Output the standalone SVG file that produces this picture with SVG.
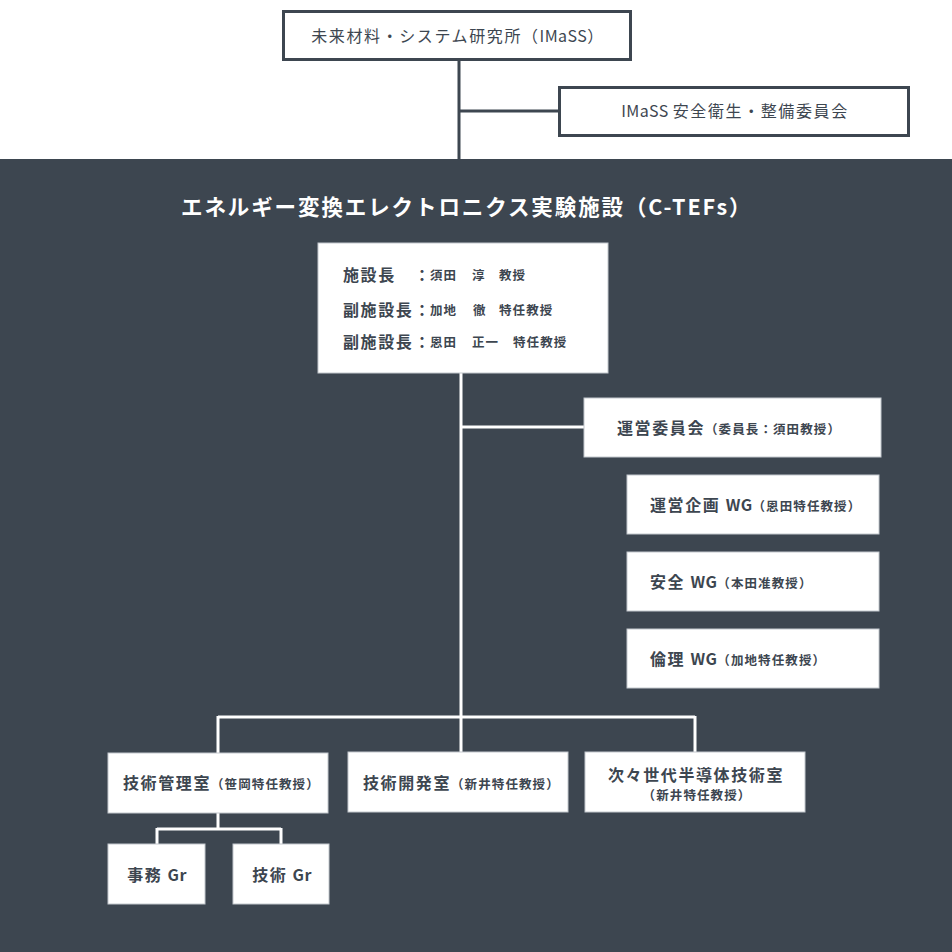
<svg xmlns="http://www.w3.org/2000/svg" width="952" height="952" viewBox="0 0 952 952">
<style>
text{font-family:"Noto Sans CJK JP","Noto Sans",sans-serif;fill:#3d4650}
.top{font-size:16px;letter-spacing:1.6px}
.lg{font-size:16px;font-weight:bold;letter-spacing:1.6px}
.sm{font-size:12.5px;font-weight:bold;letter-spacing:1.1px}
.cl{font-size:16px;font-weight:bold}
.lat{letter-spacing:0.4px}
.wbox{fill:#fff;stroke:#c3c8cd;stroke-width:1}
.obox{fill:#fff;stroke:#3d4650;stroke-width:3}
.dk{stroke:#3d4650;stroke-width:3;fill:none}
.wl{stroke:#fff;stroke-width:3;fill:none}
</style>
<rect x="0" y="0" width="952" height="952" fill="#fff"/>
<rect x="0" y="159" width="952" height="793" fill="#3d4650"/>
<g id="connectors">
<path class="dk" d="M459 61V159M459 111H558"/>
<path class="wl" d="M461 373V717M461 427H584M218 717H695M218 716V753M461 716V752M695 716V752M218 813V829M157 829H281M157 828V844M281 828V844"/>
</g>
<g id="imass">
<rect class="obox" x="283.5" y="11.5" width="347" height="48"/>
<text class="top" x="458" y="42" text-anchor="middle">未来材料・システム研究所（<tspan class="lat">IMaSS</tspan>）</text>
</g>
<g id="imass-committee">
<rect class="obox" x="559.5" y="87.5" width="349" height="48"/>
<text class="top" x="735" y="117" text-anchor="middle"><tspan class="lat">IMaSS </tspan>安全衛生・整備委員会</text>
</g>
<g id="title">
<text x="181" y="215" style="font-size:21.5px;font-weight:bold;letter-spacing:1.9px;fill:#fff">エネルギー変換エレクトロニクス実験施設（C-TEFs）</text>
</g>
<g id="head">
<rect class="wbox" x="318" y="243" width="290" height="130"/>
<text class="lg" x="343" y="281">施設長</text>
<text class="cl" x="414" y="281">：</text>
<text class="sm" x="430" y="280">須田</text>
<text class="sm" x="472" y="280">淳</text>
<text class="sm" x="499" y="280">教授</text>
<text class="lg" x="343" y="316">副施設長</text>
<text class="cl" x="414" y="316">：</text>
<text class="sm" x="430" y="315">加地</text>
<text class="sm" x="473" y="315">徹</text>
<text class="sm" x="499" y="315">特任教授</text>
<text class="lg" x="343" y="348">副施設長</text>
<text class="cl" x="414" y="348">：</text>
<text class="sm" x="430" y="347">恩田</text>
<text class="sm" x="472" y="347">正一</text>
<text class="sm" x="513" y="347">特任教授</text>
</g>
<g id="steering">
<rect class="wbox" x="584" y="398" width="297" height="59"/>
<text x="617" y="434"><tspan class="lg">運営委員会</tspan><tspan class="sm">（委員長：須田教授）</tspan></text>
</g>
<g id="wg-plan">
<rect class="wbox" x="627" y="475" width="252" height="59"/>
<text x="650" y="511"><tspan class="lg">運営企画 <tspan class="lat">WG</tspan></tspan><tspan class="sm">（恩田特任教授）</tspan></text>
</g>
<g id="wg-safety">
<rect class="wbox" x="627" y="552" width="252" height="59"/>
<text x="650" y="588"><tspan class="lg">安全 <tspan class="lat">WG</tspan></tspan><tspan class="sm">（本田准教授）</tspan></text>
</g>
<g id="wg-ethics">
<rect class="wbox" x="627" y="629" width="252" height="59"/>
<text x="650" y="665"><tspan class="lg">倫理 <tspan class="lat">WG</tspan></tspan><tspan class="sm">（加地特任教授）</tspan></text>
</g>
<g id="tech-mgmt">
<rect class="wbox" x="108" y="753" width="220" height="60"/>
<text x="123" y="789"><tspan class="lg">技術管理室</tspan><tspan class="sm">（笹岡特任教授）</tspan></text>
</g>
<g id="tech-dev">
<rect class="wbox" x="348" y="752" width="220" height="60"/>
<text x="363" y="789"><tspan class="lg">技術開発室</tspan><tspan class="sm">（新井特任教授）</tspan></text>
</g>
<g id="next-semi">
<rect class="wbox" x="585" y="752" width="220" height="60"/>
<text class="lg" x="696" y="781" text-anchor="middle">次々世代半導体技術室</text>
<text class="sm" x="697" y="800" text-anchor="middle">（新井特任教授）</text>
</g>
<g id="office-gr">
<rect class="wbox" x="108" y="844" width="97" height="60"/>
<text class="lg" x="157" y="881" text-anchor="middle">事務 <tspan class="lat">Gr</tspan></text>
</g>
<g id="tech-gr">
<rect class="wbox" x="233" y="844" width="96" height="60"/>
<text class="lg" x="282" y="881" text-anchor="middle">技術 <tspan class="lat">Gr</tspan></text>
</g>
</svg>
